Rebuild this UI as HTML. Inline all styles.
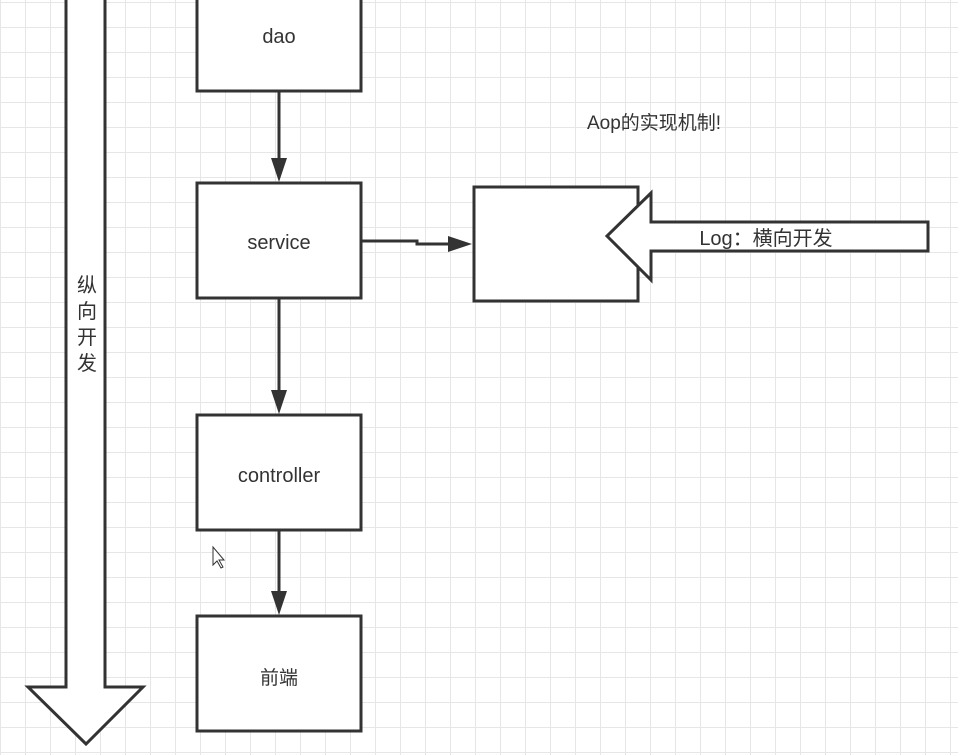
<!DOCTYPE html>
<html><head><meta charset="utf-8"><style>
html,body{margin:0;padding:0}
body{width:958px;height:755px;overflow:hidden;background-color:#fff;
background-image:linear-gradient(to right,#e6e6e6 1px,transparent 1px),linear-gradient(to bottom,#e6e6e6 1px,transparent 1px);
background-size:25px 25px;background-position:0 2px;}
</style></head><body>
<svg width="958" height="755" style="position:absolute;left:0;top:0" font-family="'Liberation Sans','Noto Sans CJK SC',sans-serif">
<g fill="#fff" stroke="#333" stroke-width="3">
<polygon points="66,-5 105,-5 105,687 143,687 86,744 28,687 66,687"/>
<rect x="197" y="-5" width="164" height="96"/>
<rect x="197" y="183" width="164" height="115"/>
<rect x="197" y="415" width="164" height="115"/>
<rect x="197" y="616" width="164" height="115"/>
<rect x="474" y="187" width="164" height="114"/>
<polygon points="928,222 651,222 651,193 607,236 651,280 651,251 928,251"/>
</g>
<g stroke="#333" stroke-width="3" fill="none">
<line x1="279" y1="91" x2="279" y2="160"/>
<line x1="279" y1="298" x2="279" y2="392"/>
<line x1="279" y1="530" x2="279" y2="593"/>
<polyline points="361,241 417,241 417,244 450,244"/>
</g>
<g fill="#333">
<polygon points="271,158 287,158 279,182"/>
<polygon points="271,390 287,390 279,414"/>
<polygon points="271,591 287,591 279,615"/>
<polygon points="448,236 448,252 472,244"/>
</g>
<g fill="#333" font-size="20" text-anchor="middle">
<text x="279" y="43">dao</text>
<text x="279" y="249">service</text>
<text x="279" y="482">controller</text>
<text x="279" y="684" font-size="19">前端</text>
<text x="766" y="245">Log：横向开发</text>
<text x="654" y="129" font-size="19">Aop的实现机制!</text>
<text x="87" y="292">纵</text>
<text x="87" y="318">向</text>
<text x="87" y="344">开</text>
<text x="87" y="370">发</text>
</g>
<polygon points="213,547 213,565 217,561 221,568 223,567 219,560 224,560" fill="#fff" stroke="#333" stroke-width="1"/>
</svg>
</body></html>
